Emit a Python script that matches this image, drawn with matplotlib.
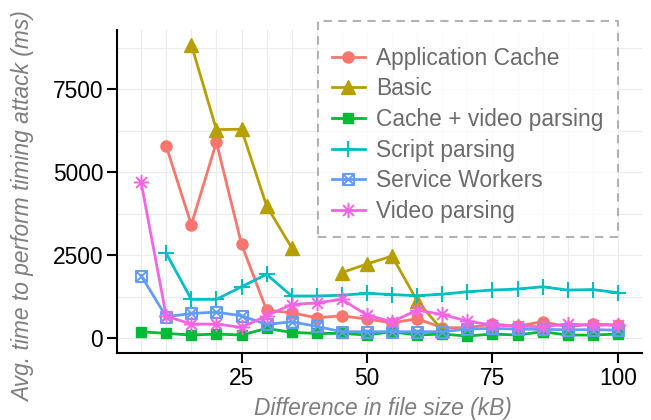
import numpy as np
import matplotlib
matplotlib.use("Agg")
import matplotlib.pyplot as plt
from matplotlib.path import Path
from matplotlib.ticker import MultipleLocator, FixedLocator

plt.rcParams['font.family'] = ['Liberation Sans', 'DejaVu Sans']

nan = np.nan
size_kb = [5, 10, 15, 20, 25, 30, 35, 40, 45, 50, 55, 60, 65, 70, 75, 80, 85, 90, 95, 100]

app_cache = [nan, 5790, 3420, 5910, 2840, 850, 770, 620, 680, 580,
             470, 590, 320, 320, 430, 370, 500, 350, 430, 400]
basic = [nan, nan, 8850, 6290, 6300, 3990, 2730, nan, 1980, 2240,
         2480, 1130, 250, nan, nan, nan, nan, nan, nan, nan]
cache_video = [200, 150, 100, 130, 100, 300, 180, 150, 150, 100,
               200, 100, 130, 70, 130, 100, 200, 100, 100, 130]
script_parse = [nan, 2560, 1175, 1175, 1555, 1930, 1275, 1275, 1300, 1355,
                1320, 1285, 1330, 1405, 1455, 1485, 1555, 1455, 1470, 1375]
service_workers = [1890, 650, 750, 790, 680, 420, 500, 360, 200, 200,
                   200, 200, 200, 280, 300, 280, 270, 260, 260, 250]
video_parse = [4700, 670, 430, 430, 330, 680, 1020, 1070, 1175, 700,
               500, 850, 720, 520, 400, 370, 350, 430, 400, 400]

labels = ["Application Cache", "Basic", "Cache + video parsing",
          "Script parsing", "Service Workers", "Video parsing"]
colors = ["#F8766D", "#B79F00", "#00BA38", "#00BFC4", "#619CFF", "#F564E3"]

# open square with an X through it
sq_cross = Path(
    [(-1, -1), (1, -1), (1, 1), (-1, 1), (-1, -1), (-1, -1), (1, 1), (-1, 1), (1, -1)],
    [Path.MOVETO, Path.LINETO, Path.LINETO, Path.LINETO, Path.CLOSEPOLY,
     Path.MOVETO, Path.LINETO, Path.MOVETO, Path.LINETO])
# plus and x overlaid
d = 0.7071
asterisk = Path(
    [(-1, 0), (1, 0), (0, -1), (0, 1), (-d, -d), (d, d), (-d, d), (d, -d)],
    [Path.MOVETO, Path.LINETO] * 4)

styles = [
    dict(marker="o", markersize=8),
    dict(marker="^", markersize=9.5),
    dict(marker="s", markersize=7.5),
    dict(marker="+", markersize=12, markeredgewidth=1.5),
    dict(marker=sq_cross, markersize=8, markerfacecolor="none", markeredgewidth=1.4),
    dict(marker=asterisk, markersize=11, markerfacecolor="none", markeredgewidth=1.4),
]

fig = plt.figure(figsize=(6.51, 4.20), dpi=100)
ax = fig.add_axes([117.3 / 651, 1 - 353.3 / 420, (641.7 - 117.3) / 651, (353.3 - 30) / 420])

series = [app_cache, basic, cache_video, script_parse, service_workers, video_parse]
for vals, lab, col, st in zip(series, labels, colors, styles):
    ax.plot(size_kb, vals, color=col, linewidth=2.0, label=lab, **st)

ax.set_xlim(0.25, 104.75)
ax.set_ylim(-450, 9290)
ax.xaxis.set_major_locator(FixedLocator([25, 50, 75, 100]))
ax.xaxis.set_minor_locator(MultipleLocator(5))
ax.yaxis.set_major_locator(FixedLocator([0, 2500, 5000, 7500]))
ax.yaxis.set_minor_locator(MultipleLocator(1250))
ax.grid(True, which="both", color="#ebebeb", linewidth=0.8, zorder=0)
ax.set_axisbelow(True)
ax.tick_params(which="minor", length=0)
ax.tick_params(which="major", length=7.2, width=1.5, color="black",
               labelsize=16.4, labelcolor="black", pad=3)
for side in ["top", "right"]:
    ax.spines[side].set_visible(False)
for side in ["left", "bottom"]:
    ax.spines[side].set_linewidth(1.5)

fig.text(383 / 651, 1 - 408 / 420, "Difference in file size (kB)", ha="center", va="center",
         fontsize=16.4, style="italic", color="#7f7f7f")
fig.text(24 / 651, 1 - 206.5 / 420, "Avg. time to perform timing attack (ms)", ha="center",
         va="center", rotation=90, fontsize=16.4, style="italic", color="#7f7f7f")

# blank title keeps the extra gap above the first entry
leg = ax.legend(loc="upper left", bbox_to_anchor=(317.7 / 651, 1 - 21 / 420),
                bbox_transform=fig.transFigure, borderaxespad=0, fontsize=16.4,
                title=" ", title_fontsize=2,
                frameon=True, fancybox=False, numpoints=1, handlelength=1.45,
                handletextpad=0.5, labelspacing=0.335, borderpad=0.62)
frame = leg.get_frame()
frame.set_edgecolor("#a0a0a0")
frame.set_linestyle((0, (4, 3)))
frame.set_linewidth(1.5)
frame.set_facecolor("white")
for t in leg.get_texts():
    t.set_color("#6b6b6b")

fig.savefig("out.png", dpi=100)
